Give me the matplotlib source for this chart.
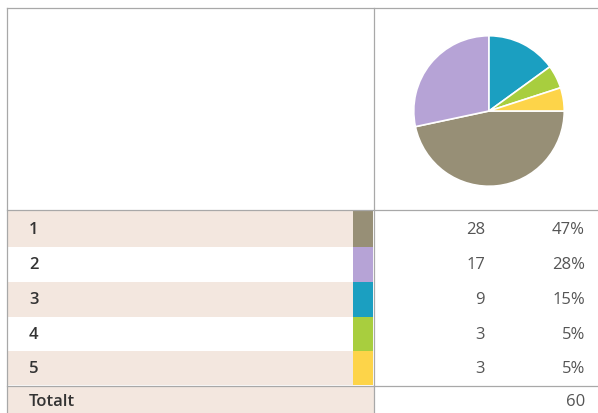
import matplotlib
matplotlib.use("Agg")
import matplotlib.pyplot as plt
from matplotlib.patches import Rectangle

categories = ["1", "2", "3", "4", "5"]
counts = [28, 17, 9, 3, 3]
percent_labels = ["47%", "28%", "15%", "5%", "5%"]
total_label = "Totalt"
total_value = 60
colors = ["#978f76", "#b6a3d6", "#1b9fc1", "#a8ce3e", "#fdd449"]

W, H = 598, 414
fig = plt.figure(figsize=(W / 100, H / 100), dpi=100)
ax = fig.add_axes([0, 0, 1, 1])
ax.set_xlim(0, W)
ax.set_ylim(H, 0)
ax.axis("off")

beige = "#f3e7df"
line_c = "#a8a8a8"
font = ["Open Sans", "DejaVu Sans"]
fs = 12

row_edges = [212, 248, 283, 318, 352, 386]
for i, cat in enumerate(categories):
    y0, y1 = row_edges[i], row_edges[i + 1]
    if i % 2 == 0:
        ax.add_patch(Rectangle((7, y0), 346, y1 - y0, color=beige, lw=0))
    ax.add_patch(Rectangle((353, y0), 20, y1 - y0, color=colors[i], lw=0))
    yc = (y0 + y1) / 2
    ax.text(29, yc, cat, fontsize=fs, family=font, color="#333333",
            va="center", ha="left", fontweight="semibold")
    ax.text(485, yc, str(counts[i]), fontsize=fs, family=font, color="#555555",
            va="center", ha="right")
    ax.text(585, yc, percent_labels[i], fontsize=fs, family=font, color="#555555",
            va="center", ha="right")

# total row
ax.add_patch(Rectangle((7, 388), 367, 26, color=beige, lw=0))
ax.text(29, 402, total_label, fontsize=fs, family=font, color="#333333",
        va="center", ha="left", fontweight="semibold")
ax.text(585, 402, str(total_value), fontsize=fs, family=font, color="#555555",
        va="center", ha="right")

# grid lines
ax.plot([7, W], [9, 9], color=line_c, lw=0.9)
ax.plot([7, 7], [9, H], color=line_c, lw=0.9)
ax.plot([374, 374], [9, H], color=line_c, lw=0.9)
ax.plot([7, W], [211, 211], color=line_c, lw=0.9)
ax.plot([7, W], [387, 387], color=line_c, lw=0.9)

# pie
cx, cy, r = 489, 112, 76
pax = fig.add_axes([(cx - r) / W, 1 - (cy + r) / H, 2 * r / W, 2 * r / H])
pax.pie(counts, colors=colors, startangle=0, counterclock=False,
        wedgeprops=dict(edgecolor="white", linewidth=1.2))
pax.set_xlim(-1.01, 1.01)
pax.set_ylim(-1.01, 1.01)
pax.set_aspect("equal")
pax.axis("off")

fig.savefig("out.png", dpi=100)
